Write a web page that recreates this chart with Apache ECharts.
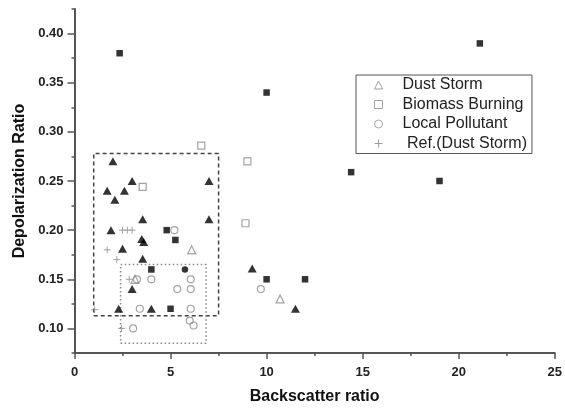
<!DOCTYPE html>
<html>
<head>
<meta charset="utf-8">
<script src="https://cdn.jsdelivr.net/npm/echarts@6/dist/echarts.min.js"></script>
<style>
  html, body { margin: 0; padding: 0; background: #fff; }
  #chart { width: 565px; height: 410px; }
</style>
</head>
<body>
<div id="chart"></div>
<script>
// tick labels
const xTicks = [0, 5, 10, 15, 20, 25];
const yTicks = [0.10, 0.15, 0.20, 0.25, 0.30, 0.35, 0.40];

// open (legend) series: [backscatter, depolarization]
const dustStorm = [[6.1, 0.180], [10.7, 0.130], [3.15, 0.150]];
const biomassBurning = [[6.6, 0.286], [3.55, 0.244], [9.0, 0.270], [8.9, 0.207]];
const localPollutant = [
  [5.2, 0.200], [3.25, 0.150], [4.0, 0.150], [6.05, 0.150], [5.35, 0.140],
  [6.05, 0.140], [3.4, 0.120], [6.05, 0.120], [6.0, 0.108], [6.2, 0.103],
  [3.05, 0.100], [9.7, 0.140]
];
const refDustStorm = [
  [1.05, 0.119], [1.7, 0.180], [2.2, 0.170], [2.5, 0.200], [2.75, 0.200],
  [3.0, 0.200], [2.45, 0.100], [2.85, 0.150]
];

// filled series (not in legend)
const dustStormFilled = [
  [2.0, 0.270], [3.0, 0.250], [1.7, 0.240], [2.6, 0.240], [2.1, 0.231],
  [7.0, 0.250], [7.0, 0.211], [3.55, 0.211], [1.9, 0.200], [3.5, 0.191],
  [3.6, 0.188], [2.5, 0.181], [3.55, 0.171], [3.0, 0.140], [2.3, 0.120],
  [4.0, 0.120], [9.25, 0.161], [11.5, 0.120]
];
const biomassFilled = [
  [2.35, 0.380], [10.0, 0.340], [21.1, 0.390], [14.4, 0.259], [19.0, 0.250],
  [4.8, 0.200], [5.25, 0.190], [4.0, 0.160], [5.0, 0.120], [10.0, 0.150],
  [12.0, 0.150]
];
const pollutantFilled = [[5.75, 0.160]];

// outline boxes
const dustBox = [[1.0, 0.113], [7.5, 0.113], [7.5, 0.278], [1.0, 0.278], [1.0, 0.113]];
const pollutantBox = [[2.4, 0.085], [6.85, 0.085], [6.85, 0.165], [2.4, 0.165], [2.4, 0.085]];

const GRAY = '#8c8c8c';
const AXIS = '#555';
const FONT = 'Liberation Sans, Arial, sans-serif';

const chart = echarts.init(document.getElementById('chart'), null, { renderer: 'canvas' });

function openSeries(name, data, symbol, size) {
  return {
    name: name,
    type: 'scatter',
    data: data,
    symbol: symbol,
    symbolSize: size,
    itemStyle: { color: 'rgba(255,255,255,0)', borderColor: GRAY, borderWidth: 1.2 },
    z: 3
  };
}
function filledSeries(name, data, symbol, size) {
  return {
    name: name,
    type: 'scatter',
    data: data,
    symbol: symbol,
    symbolSize: size,
    itemStyle: { color: '#000' },
    z: 4
  };
}
function boxSeries(data, type, color) {
  return {
    type: 'line',
    data: data,
    symbol: 'none',
    silent: true,
    lineStyle: { color: color, width: 1.5, type: type },
    z: 2
  };
}

const option = {
  animation: false,
  backgroundColor: '#fff',
  textStyle: { fontFamily: FONT },
  grid: { left: 74.5, right: 7, top: 9, bottom: 57 },
  legend: {
    data: ['Dust Storm', 'Biomass Burning', 'Local Pollutant', 'Ref.(Dust Storm)'],
    orient: 'vertical',
    left: 356,
    top: 75,
    padding: [2, 5, 2, 16],
    itemWidth: 8,
    itemHeight: 8,
    itemGap: 3.5,
    borderColor: '#555',
    borderWidth: 1,
    selectedMode: false,
    formatter: function (n) { return n === 'Ref.(Dust Storm)' ? ' ' + n : n; },
    itemStyle: { borderWidth: 1 },
    textStyle: { fontFamily: FONT, fontSize: 16, color: '#222', padding: [0, 0, 0, 15] }
  },
  xAxis: {
    type: 'value',
    min: 0,
    max: 25,
    interval: 5,
    name: 'Backscatter ratio',
    nameLocation: 'middle',
    nameGap: 36,
    nameTextStyle: { fontFamily: FONT, fontSize: 16, fontWeight: 'bold', color: '#111' },
    axisLine: { lineStyle: { color: AXIS, width: 2 } },
    axisTick: { show: true, inside: false, length: 6, lineStyle: { color: AXIS, width: 1.5 } },
    minorTick: { show: true, splitNumber: 2, length: 3, lineStyle: { color: AXIS, width: 1.5 } },
    axisLabel: { customValues: xTicks, fontFamily: FONT, fontSize: 13, fontWeight: 'bold', color: '#222', margin: 13 },
    splitLine: { show: false }
  },
  yAxis: [
    {
      type: 'value',
      min: 0.075,
      max: 0.425,
      interval: 0.025,
      name: 'Depolarization Ratio',
      nameLocation: 'middle',
      nameGap: 44,
      nameTextStyle: { fontFamily: FONT, fontSize: 16, fontWeight: 'bold', color: '#111' },
      axisLine: { show: true, lineStyle: { color: AXIS, width: 2 } },
      axisTick: { show: true, inside: false, length: 3, lineStyle: { color: AXIS, width: 1.5 } },
      axisLabel: {
        customValues: yTicks,
        fontFamily: FONT, fontSize: 13, fontWeight: 'bold', color: '#222', margin: 11,
        formatter: function (v) { return v.toFixed(2); }
      },
      splitLine: { show: false }
    },
    {
      type: 'value',
      position: 'left',
      min: 0.075,
      max: 0.425,
      interval: 0.025,
      axisLine: { show: false },
      axisTick: { show: true, inside: false, length: 7, customValues: yTicks, lineStyle: { color: AXIS, width: 1.5 } },
      axisLabel: { show: false },
      splitLine: { show: false }
    }
  ],
  series: [
    boxSeries(dustBox, [4, 3], '#444'),
    boxSeries(pollutantBox, [1.5, 2.5], '#888'),
    openSeries('Dust Storm', dustStorm, 'triangle', 8),
    openSeries('Biomass Burning', biomassBurning, 'rect', 7),
    openSeries('Local Pollutant', localPollutant, 'circle', 7),
    {
      name: 'Ref.(Dust Storm)',
      type: 'scatter',
      data: refDustStorm,
      symbol: 'path://M5,0L5,10M0,5L10,5',
      symbolSize: 7,
      itemStyle: { color: 'none', borderColor: GRAY, borderWidth: 1 },
      z: 3
    },
    filledSeries('Dust Storm (filled)', dustStormFilled, 'triangle', [9, 8]),
    filledSeries('Biomass Burning (filled)', biomassFilled, 'rect', 6.5),
    filledSeries('Local Pollutant (filled)', pollutantFilled, 'circle', 6.5)
  ]
};

chart.setOption(option);
</script>
</body>
</html>
